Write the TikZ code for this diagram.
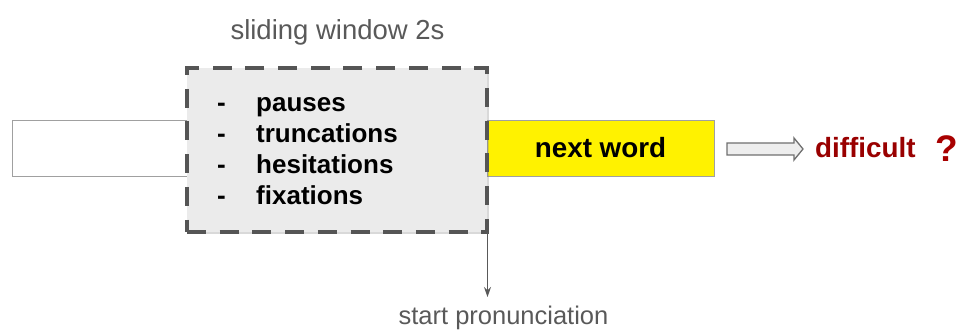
\documentclass[tikz,border=0pt]{standalone}
\usepackage{fontspec}
\setmainfont{Liberation Sans}
\usetikzlibrary{shadows,arrows.meta}

\definecolor{winfill}{HTML}{EBEBEB}
\definecolor{windash}{HTML}{555555}
\definecolor{boxline}{HTML}{A0A0A0}
\definecolor{labelgray}{HTML}{595959}
\definecolor{darkred}{HTML}{990000}
\definecolor{qred}{HTML}{A80000}
\definecolor{hollowfill}{HTML}{EEEEEE}
\definecolor{hollowline}{HTML}{707070}

\tikzset{
  plainbox/.style={draw=boxline, line width=1pt, fill=white, inner sep=0pt, outer sep=0pt},
  wordbox/.style={draw=boxline, line width=1pt, fill=yellow, inner sep=0pt, outer sep=0pt},
  windowbox/.style={draw=windash, line width=4pt, dash pattern=on 19pt off 13.7pt,
    fill=winfill, inner sep=0pt, outer sep=0pt,
    drop shadow={opacity=0.3, shadow xshift=2pt, shadow yshift=-2pt}},
  listtext/.style={font=\fontsize{26}{31}\selectfont\bfseries, inner sep=0pt, anchor=base west},
  graylabel/.style={font=\fontsize{25.5}{30}\selectfont, text=labelgray, inner sep=0pt, anchor=base},
  startline/.style={draw=labelgray, line width=1pt, -{Stealth[length=10pt,width=7pt]}},
  hollowarrow/.style={draw=hollowline, fill=hollowfill, line width=1.3pt, line join=miter},
}

\begin{document}
\begin{tikzpicture}[x=1pt,y=-1pt]
  \useasboundingbox (0,0) rectangle (960,336);

  % preceding context and the upcoming word
  \node[plainbox, minimum width=176pt, minimum height=56pt, anchor=north west] (prev) at (12,121) {};
  \node[wordbox, minimum width=227pt, minimum height=56pt, anchor=north west] (next) at (487,121) {};
  \node[font=\fontsize{27.8}{33}\selectfont\bfseries, inner sep=0pt, anchor=base] (nextlbl) at (600.5,158) {next word};

  % the 2 s sliding window with its cues
  \node[windowbox, minimum width=300pt, minimum height=164pt, anchor=north west] (win) at (187,68) {};
  \node[graylabel, font=\fontsize{27.5}{32}\selectfont] (winlbl) at (337.5,40) {sliding window 2s};

  \node[listtext] (d1) at (217,112) {-};
  \node[listtext] (d2) at (217,143) {-};
  \node[listtext] (d3) at (217,174) {-};
  \node[listtext] (d4) at (217,205) {-};
  \node[listtext] (w1) at (256,112) {pauses};
  \node[listtext] (w2) at (256,143) {truncations};
  \node[listtext] (w3) at (256,174) {hesitations};
  \node[listtext] (w4) at (256,205) {fixations};

  % onset of pronunciation
  \coordinate (onset) at (487.5,297);
  \draw[startline] (win.south east) ++(0.5,0) -- (onset);
  \node[graylabel] (onsetlbl) at (503.5,324) {start pronunciation};

  % outcome
  \coordinate (ha) at (727,149);
  \draw[hollowarrow, shift={(ha)}] (0,-6) -- (67,-6) -- (67,-11) -- (76,0) -- (67,11) -- (67,6) -- (0,6) -- cycle;
  \node[font=\fontsize{27.8}{33}\selectfont\bfseries, text=darkred, inner sep=0pt, anchor=base west] (diff) at (815,158) {difficult};
  \node[font=\fontsize{37}{44}\selectfont\bfseries, text=qred, inner sep=0pt, anchor=base west] (q) at (935,162) {?};
\end{tikzpicture}
\end{document}
